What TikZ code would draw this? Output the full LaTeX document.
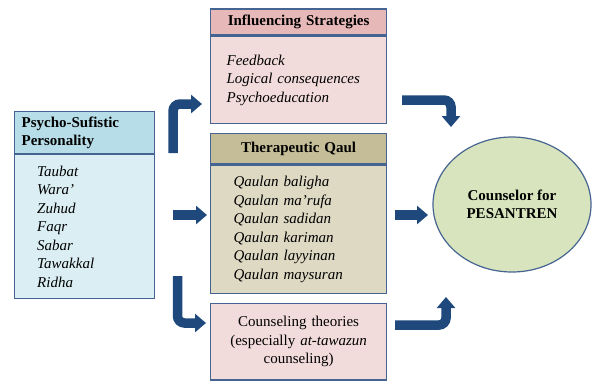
\documentclass[tikz,border=0pt]{standalone}
\usepackage{fontspec}
\setmainfont{Liberation Serif}
\usetikzlibrary{arrows.meta,shapes.geometric}
\definecolor{edge_blue}{RGB}{70,100,145}
\definecolor{arrow_blue}{RGB}{31,73,125}
\definecolor{head_blue}{RGB}{183,222,232}
\definecolor{node_blue}{RGB}{218,238,243}
\definecolor{head_red}{RGB}{230,185,184}
\definecolor{node_red}{RGB}{242,220,219}
\definecolor{head_olive}{RGB}{196,189,151}
\definecolor{node_olive}{RGB}{221,217,195}
\definecolor{node_green}{RGB}{215,228,189}

\begin{document}
\begin{tikzpicture}[x=1pt,y=-1pt,font=\fontsize{15}{18.5}\selectfont]
    \tikzstyle{box}=[draw=edge_blue, line width=1.2pt, rectangle, inner ysep=0pt]
    \tikzstyle{head}=[style=box, anchor=north west, font=\fontsize{15}{18.5}\selectfont\bfseries]
    \tikzstyle{body}=[style=box, anchor=north, align=left, font=\fontsize{15}{18.5}\selectfont\itshape]
    \tikzstyle{pipe}=[draw=arrow_blue, line width=9.5pt, rounded corners=7pt, -{Triangle[length=11pt,width=18pt]}]

    \useasboundingbox (0,0) rectangle (593,381);

    % left column
    \node[head, fill=head_blue, inner xsep=7.4pt, text width=125.6pt, minimum height=42pt, align=left] (psyhead) at (13.6,111) {Psycho-Sufistic\\Personality};
    \node[body, fill=node_blue, inner xsep=23pt, text width=94.4pt, minimum height=144pt] (psy) at (psyhead.south) {Taubat\\Wara'\\Zuhud\\Faqr\\Sabar\\Tawakkal\\Ridha};

    % middle column
    \node[head, fill=head_red, inner xsep=8pt, text width=160pt, minimum height=26pt, align=center] (infhead) at (210,8.3) {Influencing Strategies};
    \node[body, fill=node_red, inner xsep=16pt, text width=144pt, minimum height=87.7pt] (inf) at (infhead.south) {Feedback\\Logical consequences\\Psychoeducation};
    \node[head, fill=head_olive, inner xsep=8pt, text width=160pt, minimum height=30.6pt, align=center] (qaulhead) at (210,132.7) {Therapeutic Qaul};
    \node[body, fill=node_olive, inner xsep=23pt, text width=130pt, minimum height=128.7pt] (qaul) at (qaulhead.south) {Qaulan baligha\\Qaulan ma'rufa\\Qaulan sadidan\\Qaulan kariman\\Qaulan layyinan\\Qaulan maysuran};
    \node[box, fill=node_red, anchor=north west, inner xsep=8pt, text width=160pt, minimum height=76.6pt, align=center] (theory) at (210,302.7) {Counseling theories\\(especially \textit{at-tawazun}\\counseling)};

    % right
    \node[ellipse, draw=edge_blue, line width=1.2pt, fill=node_green, minimum width=158pt, minimum height=135pt, align=center, font=\fontsize{15}{18.5}\selectfont\bfseries] (pes) at (512,204.5) {Counselor for\\PESANTREN};

    % arrows
    \coordinate (up0) at (173,153);
    \coordinate (up1) at (202,104);
    \coordinate (mid0) at (173,215);
    \coordinate (mid1) at (207,215);
    \coordinate (dn0) at (177.5,276);
    \coordinate (dn1) at (206,323);
    \coordinate (rup0) at (402,100);
    \coordinate (rup1) at (451,127);
    \coordinate (rmid0) at (395,215);
    \coordinate (rmid1) at (428,215);
    \coordinate (rdn0) at (395,325);
    \coordinate (rdn1) at (446,297);

    \draw[pipe] (up0) |- (up1);
    \draw[pipe] (mid0) -- (mid1);
    \draw[pipe] (dn0) |- (dn1);
    \draw[pipe] (rup0) -| (rup1);
    \draw[pipe] (rmid0) -- (rmid1);
    \draw[pipe] (rdn0) -| (rdn1);
\end{tikzpicture}
\end{document}
